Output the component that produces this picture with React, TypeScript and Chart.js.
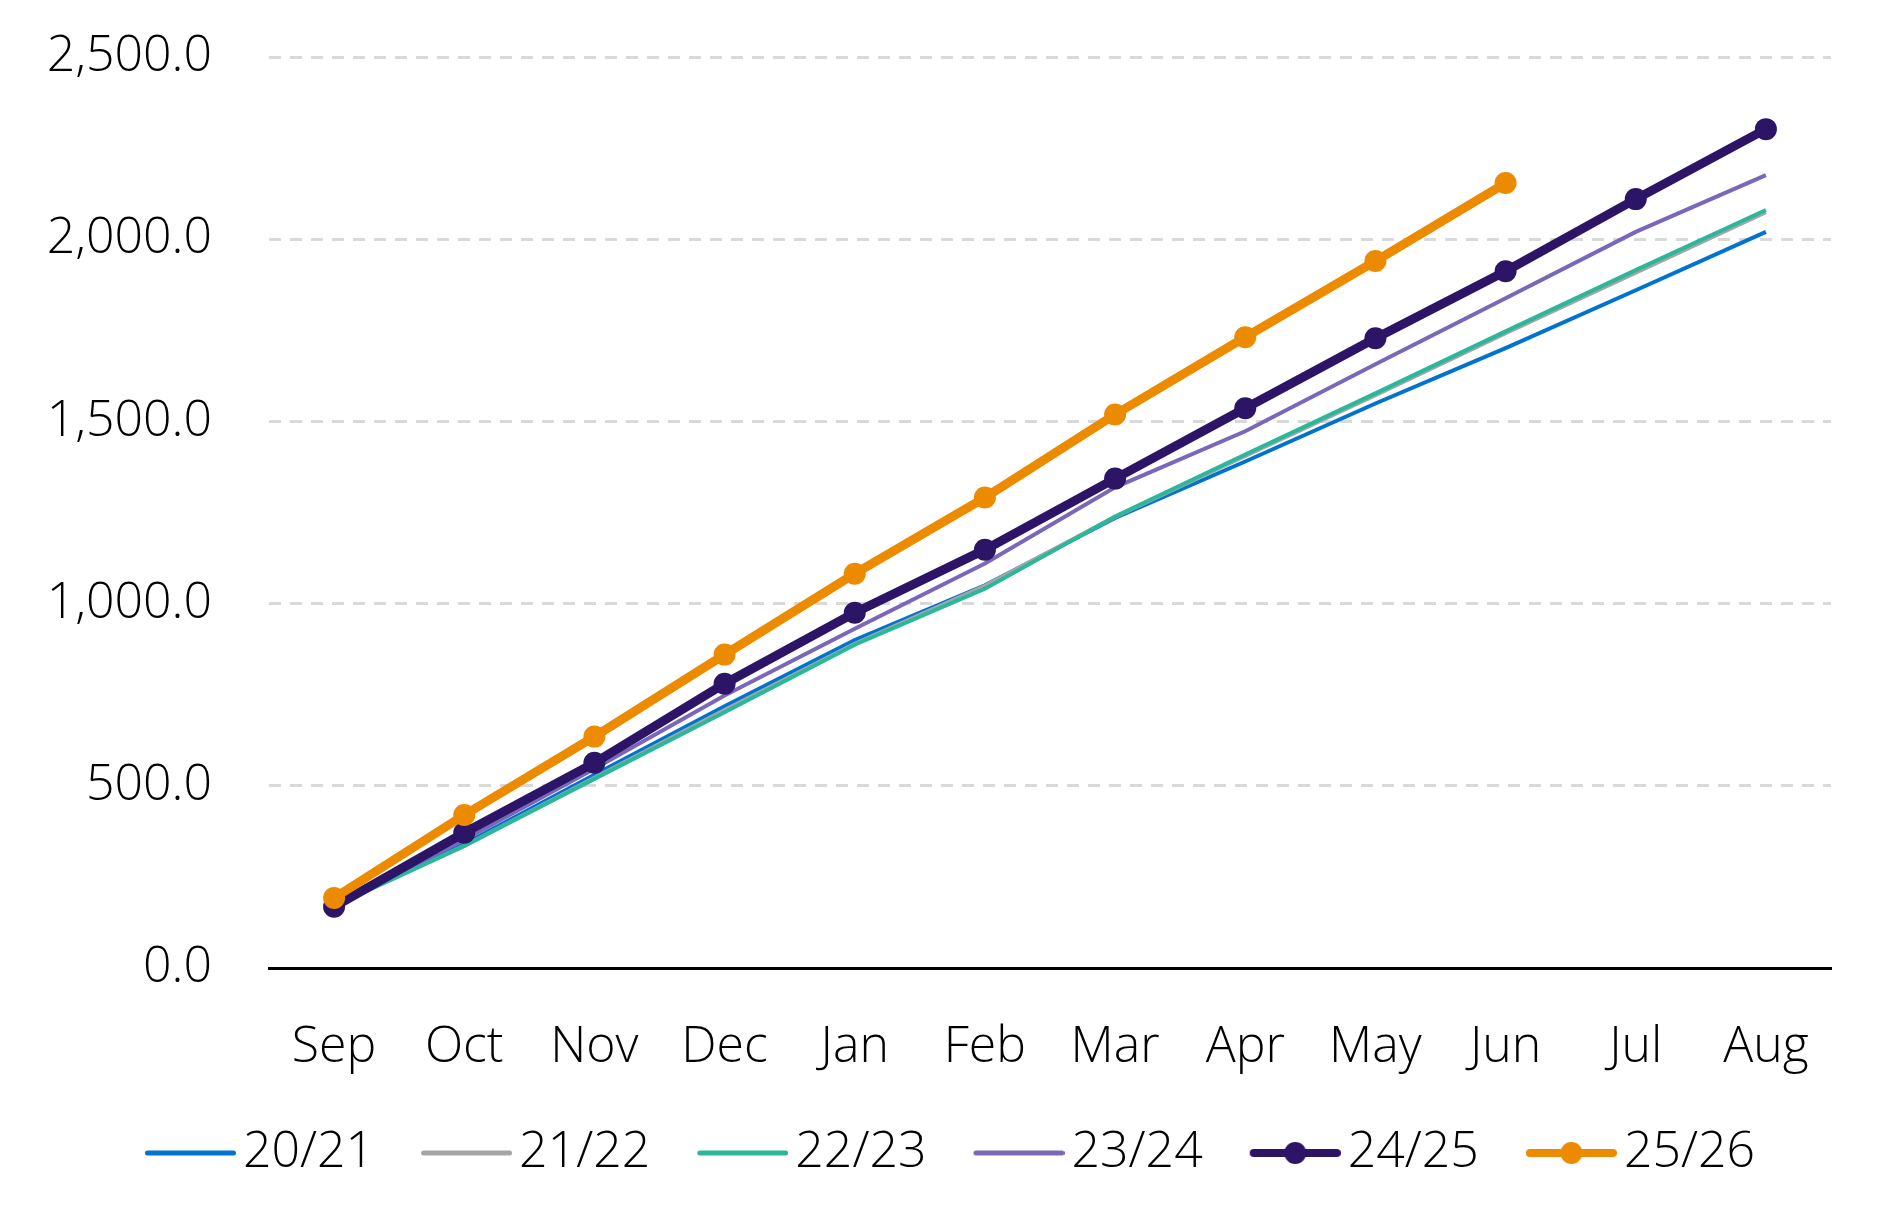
import React, { useEffect, useRef } from "react";
import { Chart, registerables } from "chart.js";

Chart.register(...registerables);

// categories + series values
const months = ["Sep", "Oct", "Nov", "Dec", "Jan", "Feb", "Mar", "Apr", "May", "Jun", "Jul", "Aug"];
const season2021 = [172, 340, 530, 718, 900, 1050, 1235, 1390, 1549, 1701, 1860, 2020];
const season2122 = [170, 335, 522, 708, 890, 1049, 1238, 1405, 1572, 1742, 1908, 2074];
const season2223 = [170, 335, 519, 702, 887, 1041, 1239, 1409, 1577, 1747, 1915, 2080];
const season2324 = [172, 352, 547, 748, 931, 1110, 1319, 1473, 1657, 1838, 2020, 2176];
const season2425 = [168, 371, 563, 780, 975, 1148, 1343, 1536, 1728, 1912, 2110, 2302];
const season2526 = [192, 420, 635, 860, 1082, 1291, 1519, 1731, 1940, 2154, null, null];
const yTicks = [0, 500, 1000, 1500, 2000, 2500];

const FONT = { family: "'Open Sans', 'Noto Sans', sans-serif", size: 50, weight: 300 as const };

const PAD_LEFT = 69;

const series = [
  { label: "20/21", data: season2021, color: "#0073cf", width: 4, dot: false, order: 5 },
  { label: "21/22", data: season2122, color: "#a5a5a5", width: 4, dot: false, order: 4 },
  { label: "22/23", data: season2223, color: "#2bb89a", width: 4, dot: false, order: 3 },
  { label: "23/24", data: season2324, color: "#7b67b9", width: 4, dot: false, order: 2 },
  { label: "24/25", data: season2425, color: "#2c1467", width: 9, dot: true, order: 1 },
  { label: "25/26", data: season2526, color: "#ec8b00", width: 9, dot: true, order: 0 },
];

// legend sample: line with optional dot, drawn off-centre so the text sits close to it
function swatch(color: string, dot: boolean) {
  const c = document.createElement("canvas");
  c.width = 109;
  c.height = 26;
  const g = c.getContext("2d")!;
  const lw = dot ? 8 : 5;
  const x0 = 18;
  const x1 = 109;
  g.strokeStyle = color;
  g.lineWidth = lw;
  g.lineCap = "round";
  g.beginPath();
  g.moveTo(x0 + lw / 2, 13);
  g.lineTo(x1 - lw / 2, 13);
  g.stroke();
  if (dot) {
    g.fillStyle = color;
    g.beginPath();
    g.arc((x0 + x1) / 2, 13, 11, 0, Math.PI * 2);
    g.fill();
  }
  return c;
}

// let the y labels spill past the layout padding instead of being clipped
const unclipY = {
  id: "unclipY",
  afterLayout(chart: Chart) {
    chart.scales.y.left = 0;
  },
};

export default function App() {
  const canvasRef = useRef<HTMLCanvasElement>(null);

  useEffect(() => {
    const ctx = canvasRef.current?.getContext("2d");
    if (!ctx) return;

    const swatches = series.map((s) => swatch(s.color, s.dot));

    const chart = new Chart(ctx, {
      type: "line",
      data: {
        labels: months,
        datasets: series.map((s) => ({
          label: s.label,
          data: s.data,
          borderColor: s.color,
          backgroundColor: s.color,
          borderWidth: s.width,
          pointRadius: s.dot ? 11 : 0,
          pointHoverRadius: s.dot ? 11 : 0,
          pointBackgroundColor: s.color,
          pointBorderWidth: 0,
          tension: 0,
          order: s.order,
          spanGaps: false,
        })),
      },
      options: {
        animation: false,
        responsive: true,
        maintainAspectRatio: false,
        layout: { padding: { top: 57, right: 53, bottom: 41, left: PAD_LEFT } },
        plugins: {
          tooltip: { enabled: false },
          legend: {
            position: "bottom",
            labels: {
              usePointStyle: true,
              pointStyleWidth: 73,
              padding: 47,
              color: "#000",
              font: FONT,
              generateLabels: (c) =>
                Chart.defaults.plugins.legend.labels.generateLabels(c).map((item) => ({
                  ...item,
                  pointStyle: swatches[item.datasetIndex!],
                })),
              sort: (a, b) => a.datasetIndex! - b.datasetIndex!,
            },
          },
        },
        scales: {
          x: {
            offset: true,
            grid: { display: false, drawTicks: false },
            border: { display: true, color: "#000", width: 3 },
            ticks: { padding: 50, color: "#000", font: FONT, maxRotation: 0, autoSkip: false },
            afterFit: (scale) => {
              scale.height = 113;
            },
          },
          y: {
            min: 0,
            max: 2500,
            afterBuildTicks: (scale) => {
              scale.ticks = yTicks.map((v) => ({ value: v }));
            },
            afterFit: (scale) => {
              scale.width = 269 - PAD_LEFT;
              scale.paddingTop = 0;
              scale.paddingBottom = 0;
            },
            grid: {
              color: (c) => (c.tick && c.tick.value === 0 ? "rgba(0,0,0,0)" : "#d9d9d9"),
              lineWidth: 3,
              drawTicks: false,
            },
            border: { display: false, dash: [12, 9] },
            ticks: {
              padding: 57,
              color: "#000",
              font: FONT,
              callback: (v) =>
                Number(v).toLocaleString("en-US", { minimumFractionDigits: 1, maximumFractionDigits: 1 }),
            },
          },
        },
      },
      plugins: [unclipY],
    });

    return () => chart.destroy();
  }, []);

  return (
    <div style={{ position: "fixed", left: 0, top: 0, width: 1884, height: 1229, background: "#fff" }}>
      <canvas ref={canvasRef} />
    </div>
  );
}
